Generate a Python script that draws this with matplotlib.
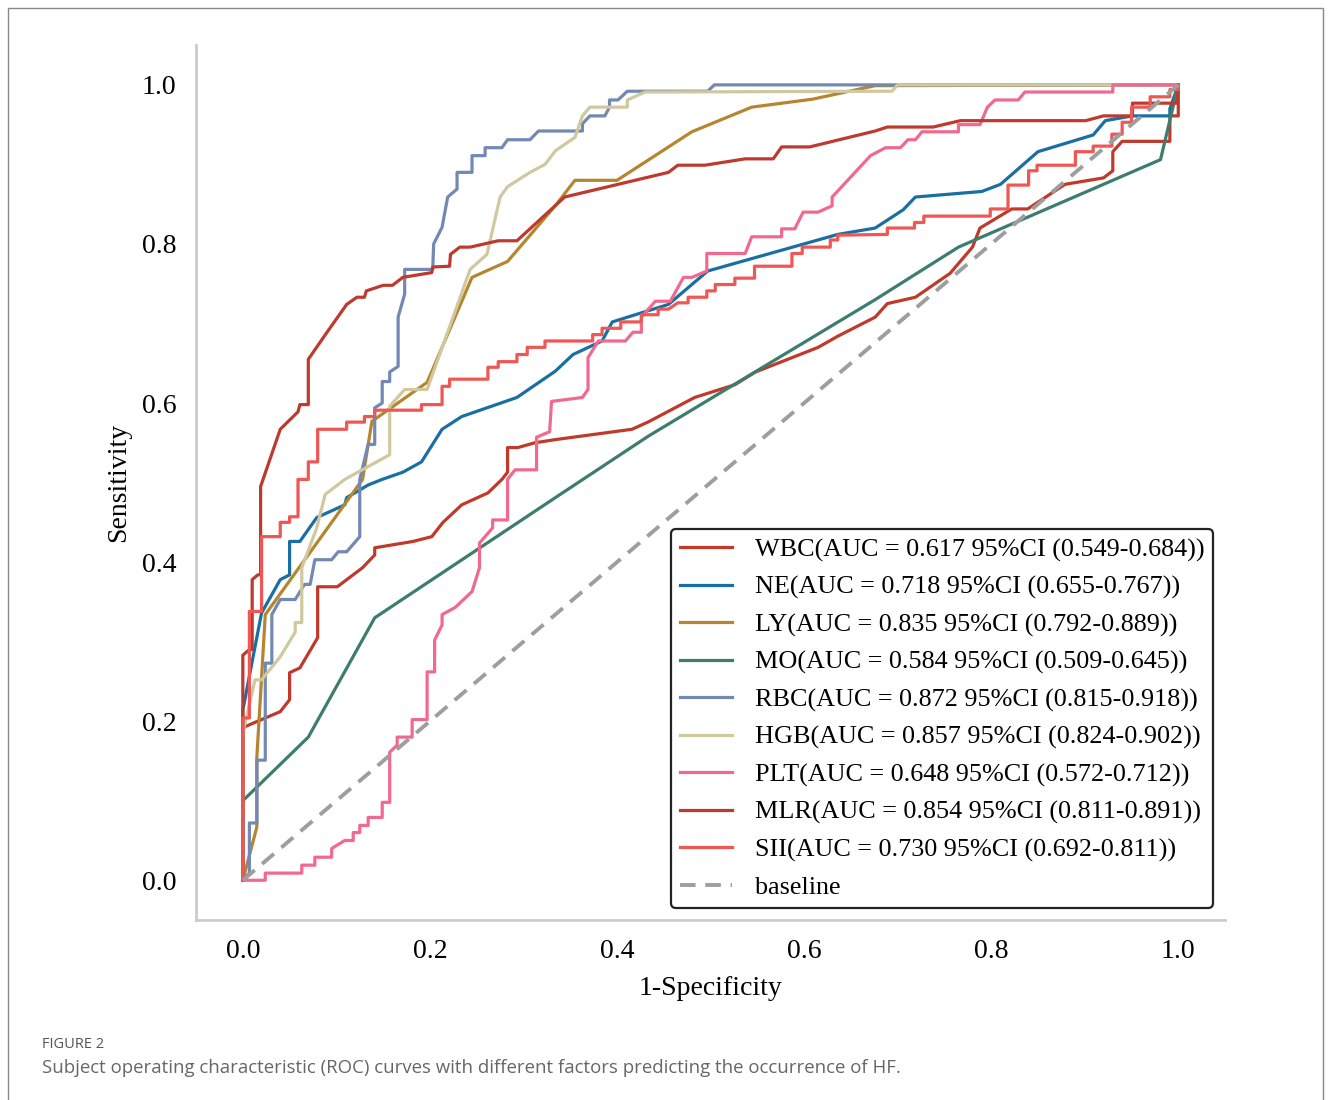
import matplotlib
matplotlib.use("Agg")
import matplotlib.pyplot as plt
from matplotlib.patches import Rectangle

# ROC points (1-specificity, sensitivity)
wbc_roc = [(0, 0), (0, 0.189), (0.002, 0.193), (0.040, 0.212), (0.050, 0.227), (0.050, 0.261),
           (0.061, 0.267), (0.080, 0.305), (0.080, 0.369), (0.101, 0.369), (0.128, 0.393),
           (0.141, 0.409), (0.141, 0.418), (0.182, 0.426), (0.202, 0.432), (0.214, 0.450),
           (0.234, 0.472), (0.262, 0.487), (0.277, 0.504), (0.283, 0.513), (0.283, 0.544),
           (0.294, 0.544), (0.312, 0.550), (0.334, 0.554), (0.416, 0.567), (0.433, 0.576),
           (0.483, 0.607), (0.526, 0.623), (0.548, 0.639), (0.615, 0.670), (0.636, 0.684),
           (0.676, 0.708), (0.689, 0.725), (0.719, 0.733), (0.756, 0.763), (0.780, 0.796),
           (0.788, 0.820), (0.822, 0.844), (0.839, 0.844), (0.879, 0.875), (0.920, 0.883),
           (0.930, 0.892), (0.930, 0.916), (0.940, 0.929), (0.991, 0.929), (0.991, 0.961),
           (1.0, 0.961), (1.0, 1.0)]

ne_roc = [(0, 0), (0, 0.214), (0.020, 0.336), (0.040, 0.378), (0.050, 0.384), (0.050, 0.426),
          (0.061, 0.426), (0.079, 0.456), (0.109, 0.472), (0.111, 0.481), (0.134, 0.497),
          (0.149, 0.504), (0.171, 0.513), (0.191, 0.526), (0.213, 0.567), (0.234, 0.583),
          (0.293, 0.607), (0.334, 0.640), (0.353, 0.661), (0.384, 0.678), (0.395, 0.702),
          (0.455, 0.724), (0.497, 0.766), (0.636, 0.812), (0.676, 0.820), (0.706, 0.843),
          (0.719, 0.859), (0.790, 0.866), (0.810, 0.875), (0.850, 0.916), (0.909, 0.937),
          (0.922, 0.955), (0.951, 0.961), (0.991, 0.961), (0.991, 0.970), (1.0, 1.0)]

ly_roc = [(0, 0), (0.015, 0.067), (0.015, 0.155), (0.024, 0.334), (0.128, 0.504), (0.138, 0.577),
          (0.197, 0.626), (0.245, 0.758), (0.283, 0.778), (0.334, 0.848), (0.355, 0.880),
          (0.400, 0.880), (0.480, 0.941), (0.544, 0.972), (0.609, 0.982), (0.676, 0.999),
          (1.0, 1.0)]

mo_roc = [(0, 0), (0, 0.100), (0.070, 0.180), (0.141, 0.330), (0.334, 0.481), (0.433, 0.558),
          (0.676, 0.730), (0.765, 0.796), (0.981, 0.906), (1.0, 1.0)]

rbc_roc = [(0, 0), (0.007, 0.009), (0.007, 0.072), (0.015, 0.072), (0.015, 0.151), (0.024, 0.151),
           (0.024, 0.273), (0.031, 0.273), (0.031, 0.334), (0.040, 0.353), (0.056, 0.353),
           (0.066, 0.372), (0.072, 0.372), (0.077, 0.403), (0.095, 0.403), (0.102, 0.413),
           (0.111, 0.413), (0.125, 0.432), (0.125, 0.504), (0.134, 0.548), (0.141, 0.548),
           (0.141, 0.594), (0.149, 0.600), (0.149, 0.627), (0.157, 0.627), (0.157, 0.639),
           (0.166, 0.646), (0.166, 0.708), (0.173, 0.737), (0.173, 0.768), (0.203, 0.768),
           (0.204, 0.800), (0.213, 0.821), (0.219, 0.859), (0.229, 0.869), (0.229, 0.890),
           (0.245, 0.890), (0.245, 0.911), (0.259, 0.911), (0.259, 0.921), (0.277, 0.921),
           (0.283, 0.931), (0.307, 0.931), (0.316, 0.942), (0.363, 0.942), (0.363, 0.951),
           (0.371, 0.961), (0.387, 0.961), (0.392, 0.972), (0.392, 0.981), (0.401, 0.981),
           (0.411, 0.992), (0.497, 0.992), (0.504, 1.0), (1.0, 1.0)]

hgb_roc = [(0, 0), (0, 0.185), (0.013, 0.252), (0.020, 0.252), (0.040, 0.281), (0.056, 0.312),
           (0.056, 0.324), (0.063, 0.324), (0.063, 0.393), (0.079, 0.443), (0.088, 0.485),
           (0.109, 0.504), (0.157, 0.535), (0.157, 0.596), (0.173, 0.617), (0.197, 0.617),
           (0.243, 0.768), (0.261, 0.787), (0.275, 0.859), (0.283, 0.872), (0.307, 0.890),
           (0.323, 0.900), (0.334, 0.917), (0.355, 0.934), (0.363, 0.961), (0.371, 0.972),
           (0.411, 0.972), (0.411, 0.981), (0.430, 0.991), (0.694, 0.992), (0.700, 1.0),
           (1.0, 1.0)]

plt_roc = [(0, 0), (0.024, 0), (0.024, 0.009), (0.063, 0.009), (0.063, 0.019), (0.077, 0.019),
           (0.077, 0.029), (0.095, 0.029), (0.095, 0.040), (0.109, 0.050), (0.118, 0.050),
           (0.118, 0.060), (0.125, 0.060), (0.125, 0.069), (0.134, 0.069), (0.134, 0.079),
           (0.149, 0.079), (0.149, 0.098), (0.157, 0.098), (0.157, 0.161), (0.165, 0.170),
           (0.165, 0.180), (0.181, 0.180), (0.181, 0.202), (0.197, 0.202), (0.197, 0.262),
           (0.205, 0.262), (0.205, 0.302), (0.213, 0.321), (0.213, 0.334), (0.227, 0.343),
           (0.245, 0.363), (0.253, 0.393), (0.253, 0.424), (0.267, 0.443), (0.267, 0.453),
           (0.283, 0.453), (0.283, 0.504), (0.291, 0.516), (0.314, 0.516), (0.314, 0.557),
           (0.328, 0.564), (0.330, 0.602), (0.363, 0.607), (0.369, 0.617), (0.369, 0.657),
           (0.380, 0.678), (0.409, 0.678), (0.417, 0.689), (0.426, 0.689), (0.426, 0.708),
           (0.441, 0.728), (0.457, 0.728), (0.471, 0.758), (0.480, 0.758), (0.496, 0.766),
           (0.496, 0.788), (0.537, 0.788), (0.544, 0.809), (0.576, 0.809), (0.576, 0.819),
           (0.590, 0.819), (0.599, 0.840), (0.615, 0.840), (0.630, 0.848), (0.630, 0.859),
           (0.671, 0.911), (0.687, 0.921), (0.703, 0.921), (0.711, 0.931), (0.719, 0.931),
           (0.726, 0.941), (0.765, 0.941), (0.765, 0.950), (0.788, 0.950), (0.796, 0.972),
           (0.804, 0.981), (0.829, 0.981), (0.836, 0.991), (0.930, 0.991), (0.930, 1.0),
           (1.0, 1.0)]

mlr_roc = [(0, 0), (0, 0.283), (0.007, 0.290), (0.010, 0.290), (0.010, 0.378), (0.016, 0.384),
           (0.019, 0.384), (0.019, 0.495), (0.040, 0.567), (0.059, 0.589), (0.061, 0.598),
           (0.070, 0.598), (0.070, 0.655), (0.090, 0.689), (0.111, 0.724), (0.122, 0.733),
           (0.130, 0.733), (0.132, 0.741), (0.150, 0.748), (0.160, 0.748), (0.171, 0.758),
           (0.202, 0.764), (0.203, 0.771), (0.221, 0.772), (0.222, 0.787), (0.232, 0.796),
           (0.243, 0.796), (0.273, 0.804), (0.293, 0.804), (0.344, 0.859), (0.455, 0.890),
           (0.465, 0.899), (0.494, 0.899), (0.537, 0.907), (0.567, 0.907), (0.576, 0.922),
           (0.606, 0.922), (0.676, 0.942), (0.689, 0.947), (0.738, 0.947), (0.767, 0.955),
           (0.901, 0.955), (0.920, 0.961), (0.951, 0.961), (0.951, 0.977), (0.999, 0.977),
           (1.0, 1.0)]

sii_roc = [(0, 0), (0, 0.204), (0.007, 0.204), (0.007, 0.338), (0.020, 0.338), (0.020, 0.432),
           (0.040, 0.432), (0.040, 0.450), (0.050, 0.450), (0.050, 0.457), (0.059, 0.457),
           (0.059, 0.504), (0.070, 0.504), (0.070, 0.526), (0.080, 0.526), (0.080, 0.567),
           (0.111, 0.567), (0.111, 0.576), (0.130, 0.576), (0.130, 0.583), (0.141, 0.583),
           (0.141, 0.591), (0.191, 0.591), (0.191, 0.598), (0.213, 0.598), (0.213, 0.621),
           (0.221, 0.621), (0.221, 0.630), (0.262, 0.630), (0.262, 0.645), (0.273, 0.645),
           (0.273, 0.652), (0.293, 0.652), (0.293, 0.661), (0.304, 0.661), (0.304, 0.670),
           (0.323, 0.670), (0.323, 0.678), (0.374, 0.678), (0.374, 0.686), (0.384, 0.686),
           (0.384, 0.694), (0.404, 0.694), (0.404, 0.702), (0.426, 0.702), (0.426, 0.711),
           (0.444, 0.711), (0.444, 0.718), (0.455, 0.718), (0.465, 0.726), (0.476, 0.726),
           (0.476, 0.733), (0.496, 0.733), (0.496, 0.741), (0.505, 0.741), (0.505, 0.749),
           (0.526, 0.749), (0.526, 0.757), (0.547, 0.757), (0.547, 0.772), (0.587, 0.772),
           (0.587, 0.788), (0.598, 0.788), (0.598, 0.796), (0.628, 0.796), (0.628, 0.805),
           (0.636, 0.805), (0.636, 0.811), (0.689, 0.812), (0.689, 0.820), (0.718, 0.820),
           (0.718, 0.827), (0.728, 0.827), (0.728, 0.835), (0.799, 0.835), (0.799, 0.844),
           (0.818, 0.844), (0.818, 0.874), (0.840, 0.874), (0.840, 0.892), (0.849, 0.892),
           (0.849, 0.899), (0.890, 0.899), (0.890, 0.916), (0.909, 0.916), (0.909, 0.923),
           (0.929, 0.923), (0.929, 0.938), (0.940, 0.938), (0.940, 0.953), (0.950, 0.953),
           (0.950, 0.972), (0.970, 0.972), (0.970, 0.985), (0.991, 0.985), (0.991, 0.994),
           (1.0, 0.994), (1.0, 1.0)]

names = ['WBC', 'NE', 'LY', 'MO', 'RBC', 'HGB', 'PLT', 'MLR', 'SII']
auc = ['0.617', '0.718', '0.835', '0.584', '0.872', '0.857', '0.648', '0.854', '0.730']
ci = ['0.549-0.684', '0.655-0.767', '0.792-0.889', '0.509-0.645', '0.815-0.918',
      '0.824-0.902', '0.572-0.712', '0.811-0.891', '0.692-0.811']
curves = [wbc_roc, ne_roc, ly_roc, mo_roc, rbc_roc, hgb_roc, plt_roc, mlr_roc, sii_roc]
colors = ['#C0392B', '#1A6FA2', '#B5862F', '#3D7D6C', '#7289B4', '#D0C89F',
          '#F2698F', '#BE3A2E', '#EE5753']

plt.rcParams['font.family'] = ['Liberation Serif', 'DejaVu Serif']

fig = plt.figure(figsize=(13.31, 11), dpi=100)
ax = fig.add_axes([0.1473, 0.1636, 0.7731, 0.7954])

for name, a, c, pts, col in zip(names, auc, ci, curves, colors):
    xs = [p[0] for p in pts]
    ys = [p[1] for p in pts]
    ax.plot(xs, ys, color=col, lw=2.3, label=f'{name}(AUC = {a} 95%CI ({c}))')

ax.plot([0, 1], [0, 1], color='#9E9E9E', lw=2.8, ls=(0, (4, 2.5)), label='baseline')

ax.set_xlim(-0.05, 1.05)
ax.set_ylim(-0.05, 1.05)
ax.set_xticks([0, 0.2, 0.4, 0.6, 0.8, 1.0])
ax.set_yticks([0, 0.2, 0.4, 0.6, 0.8, 1.0])
ax.tick_params(length=0, labelsize=20, pad=14)
for side in ['top', 'right']:
    ax.spines[side].set_visible(False)
for side in ['left', 'bottom']:
    ax.spines[side].set_color('#CCCCCC')
    ax.spines[side].set_linewidth(2)

ax.set_xlabel('1-Specificity', fontsize=20, labelpad=8)
ax.set_ylabel('Sensitivity', fontsize=20, labelpad=8)

leg = ax.legend(loc='lower right', fontsize=18.8, frameon=True, fancybox=True,
                edgecolor='#222222', framealpha=1, labelspacing=0.53,
                handlelength=2.0, handletextpad=0.85, borderaxespad=0.45,
                borderpad=0.35)
leg.get_frame().set_linewidth(1.6)

# outer frame and caption
fig.patches.append(Rectangle((8 / 1331, -0.01), 1315 / 1331, 1.01 - 8 / 1100,
                             transform=fig.transFigure, fill=False,
                             edgecolor='#888888', lw=1))
fig.text(42 / 1331, 1 - 1045 / 1100, 'FIGURE 2', fontsize=10.5, color='#555555',
         family='Open Sans', va='center')
fig.text(42 / 1331, 1 - 1068 / 1100,
         'Subject operating characteristic (ROC) curves with different factors '
         'predicting the occurrence of HF.',
         fontsize=13.4, color='#666666', family='Open Sans', va='center')

fig.savefig('out.png', dpi=100)
